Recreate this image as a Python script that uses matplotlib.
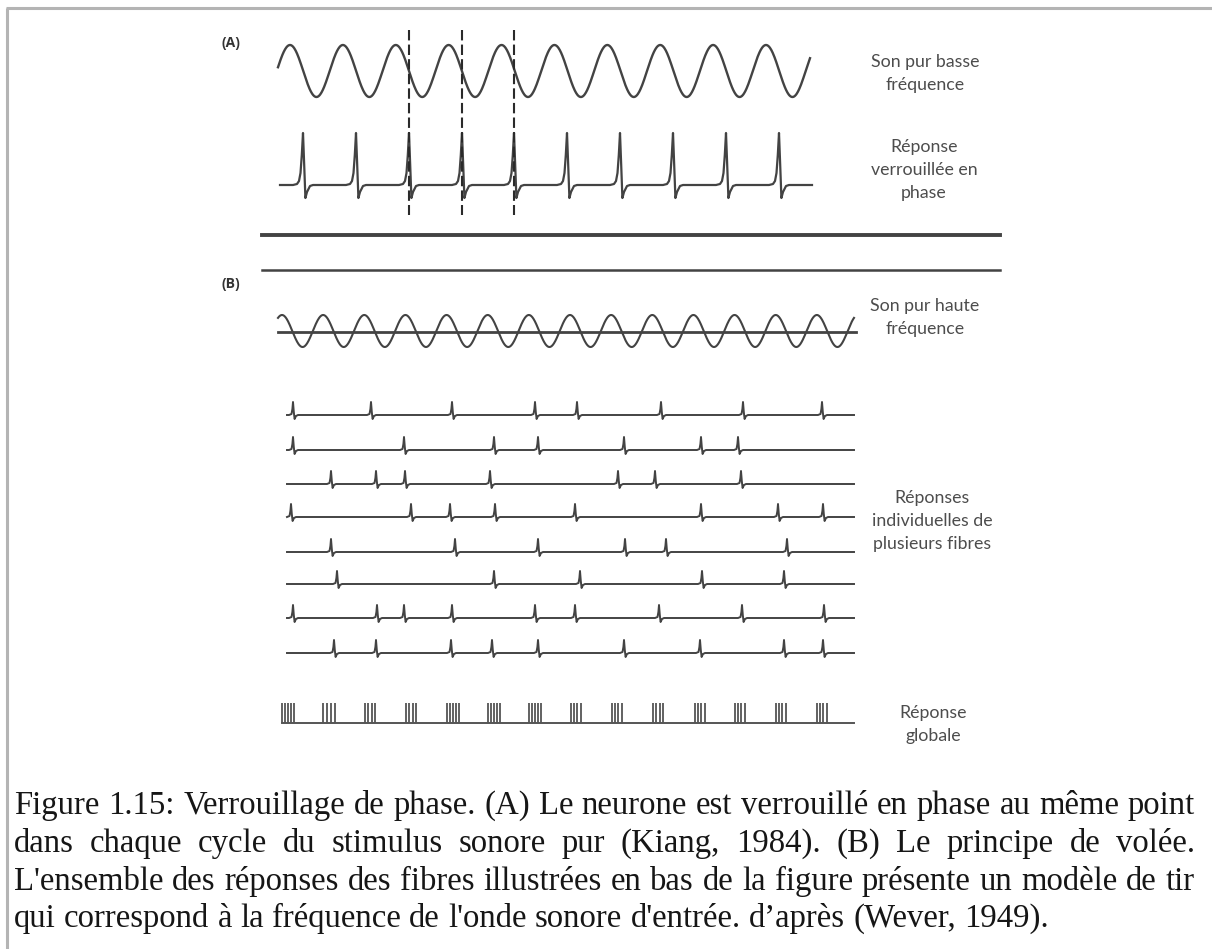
import numpy as np
import matplotlib
matplotlib.use("Agg")
import matplotlib.pyplot as plt

W, H = 1212, 949

# (A) low-frequency pure tone and the phase-locked response (x in pixels of time)
tone_a_start, tone_a_end = 278, 810
tone_a_crest = 290
spikes_a = [303, 356, 409, 462, 514, 567, 620, 673, 726, 779]
locked_marks = [409, 462, 514]

# (B) high-frequency pure tone
tone_b_start, tone_b_end = 278, 854
tone_b_cycles = 14
tone_b_crest = 282

# (B) individual fibres, spike times
fibres = [
    [293, 371, 452, 535, 577, 661, 743, 822],
    [293, 404, 494, 538, 624, 701, 738],
    [331, 376, 405, 490, 618, 655, 741],
    [291, 411, 450, 495, 575, 701, 778, 823],
    [331, 455, 538, 625, 666, 787],
    [337, 494, 580, 702, 784],
    [293, 377, 404, 452, 535, 575, 659, 742, 824],
    [334, 376, 451, 492, 538, 624, 700, 784, 823],
]
fibre_rows = [415, 450, 484, 517, 552, 584, 618, 653]

# (B) global response, one bar per spike in each volley
volley = [
    282, 285, 288, 291, 294,
    323, 327, 331, 335,
    365, 368, 372, 375,
    406, 409, 413, 416,
    447, 450, 453, 456, 459,
    488, 491, 494, 497, 500,
    529, 532, 535, 538, 541,
    571, 574, 577, 581,
    612, 615, 618, 622,
    653, 656, 660, 663,
    695, 698, 701, 705,
    735, 738, 741, 745,
    776, 779, 782, 786,
    817, 820, 823, 827,
]

labels = [
    (["Son pur basse", "fréquence"], 925, 62),
    (["Réponse", "verrouillée en", "phase"], 924, 147),
    (["Son pur haute", "fréquence"], 925, 306),
    (["Réponses", "individuelles de", "plusieurs fibres"], 932, 498),
    (["Réponse", "globale"], 933, 713),
]

caption = [
    "Figure 1.15: Verrouillage de phase. (A) Le neurone est verrouillé en phase au même point",
    "dans chaque cycle du stimulus sonore pur (Kiang, 1984). (B) Le principe de volée.",
    "L'ensemble des réponses des fibres illustrées en bas de la figure présente un modèle de tir",
    "qui correspond à la fréquence de l'onde sonore d'entrée. d’après (Wever, 1949).",
]
caption_y = [814, 852, 890, 927]

ink = "#434343"
grey_txt = "#4d4d4d"

fig = plt.figure(figsize=(W / 100, H / 100), dpi=100)
ax = fig.add_axes([0, 0, 1, 1])
ax.set_xlim(0, W)
ax.set_ylim(H, 0)
ax.axis("off")

# frame of the figure box
ax.plot([6, W], [8, 8], color="#b4b4b4", lw=2.2, solid_capstyle="butt")
ax.plot([7, 7], [8, H], color="#b4b4b4", lw=2.2, solid_capstyle="butt")


def spike_a(t):
    dx = np.array([-10, -6, -4, -2.5, -1.2, 0, 1.2, 2.4, 4, 7, 10])
    dy = np.array([0, -1, -4, -12, -30, -52, -20, 13, 7, 1, 0])
    return t + dx, 185 + dy


def spike_b(t, y0):
    dx = np.array([-4, -1.5, -0.6, 0, 0.8, 1.6, 3, 5])
    dy = np.array([0, -1, -6, -13, -3, 4, 1, 0])
    return t + dx, y0 + dy


# ---- (A)
ax.text(231, 43, "(A)", ha="center", va="center", fontsize=10, fontweight="bold",
        color="#333333", family="Open Sans")
period_a = np.mean(np.diff(spikes_a))
xa = np.linspace(tone_a_start, tone_a_end, 1200)
ax.plot(xa, 71 - 26 * np.cos(2 * np.pi * (xa - tone_a_crest) / period_a), color=ink, lw=1.7)

xs, ys = [280], [185]
for t in spikes_a:
    sx, sy = spike_a(t)
    xs += list(sx)
    ys += list(sy)
xs.append(tone_a_end + 2)
ys.append(185)
ax.plot(xs, ys, color=ink, lw=1.6)

for t in locked_marks:
    ax.plot([t, t], [30, 215], color="#2a2a2a", lw=1.5, ls=(0, (5, 2)))

# separators between the panels
ax.plot([262, 1000], [235, 235], color=ink, lw=2.8)
ax.plot([262, 1000], [270, 270], color=ink, lw=1.8)

# ---- (B)
ax.text(231, 284, "(B)", ha="center", va="center", fontsize=10, fontweight="bold",
        color="#333333", family="Open Sans")
period_b = (tone_b_end - tone_b_start) / tone_b_cycles
xb = np.linspace(tone_b_start, tone_b_end, 1600)
ax.plot(xb, 331 - 16 * np.cos(2 * np.pi * (xb - tone_b_crest) / period_b), color=ink, lw=1.5)
ax.plot([tone_b_start, tone_b_end + 2], [332, 332], color=ink, lw=2.0)

for row, y0 in zip(fibres, fibre_rows):
    xs, ys = [287], [y0]
    for t in row:
        sx, sy = spike_b(t, y0)
        xs += list(sx)
        ys += list(sy)
    xs.append(854)
    ys.append(y0)
    ax.plot(xs, ys, color=ink, lw=1.4)

ax.plot([282, 854], [723, 723], color="#555555", lw=1.4)
ax.vlines(volley, 703, 723, color="#555555", lw=1.3)

for lines, x, y in labels:
    for i, s in enumerate(lines):
        ax.text(x, y + 23 * i, s, ha="center", va="center", fontsize=12.8,
                color=grey_txt, family="Lato")

# ---- caption, justified between the margins
left, right = 14, 1195
fig.canvas.draw()
r = fig.canvas.get_renderer()
probe = ax.text(0, 0, caption[2], fontsize=20, family="Liberation Serif")
nat = probe.get_window_extent(r).width
probe.remove()
fs = 20 * (right - left - 8) / nat

for k, (line, y) in enumerate(zip(caption, caption_y)):
    words = line.split(" ")
    arts = [ax.text(0, y, w, fontsize=fs, family="Liberation Serif", color="#161616",
                    va="baseline", ha="left") for w in words]
    widths = [a.get_window_extent(r).width for a in arts]
    if k < len(caption) - 1:
        gap = (right - left - sum(widths)) / (len(words) - 1)
    else:
        sp = ax.text(0, 0, "a a", fontsize=fs, family="Liberation Serif")
        sa = ax.text(0, 0, "aa", fontsize=fs, family="Liberation Serif")
        gap = sp.get_window_extent(r).width - sa.get_window_extent(r).width
        sp.remove()
        sa.remove()
    x = left
    for a, w in zip(arts, widths):
        a.set_x(x)
        x += w + gap

fig.savefig("out.png", dpi=100, facecolor="white")
